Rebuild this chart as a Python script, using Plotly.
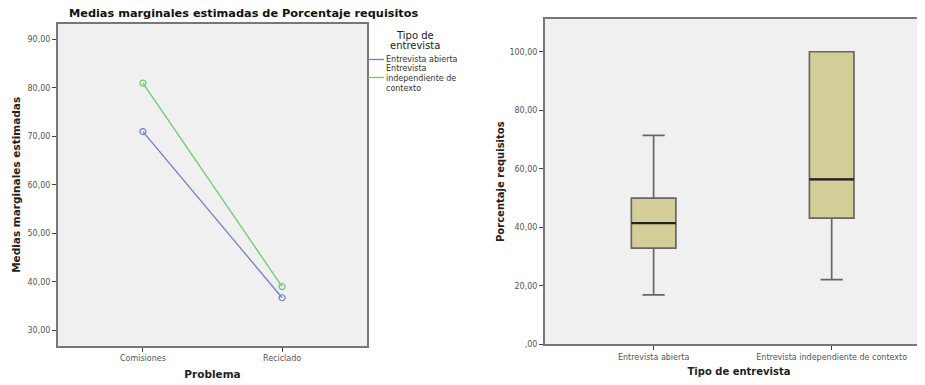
import plotly.graph_objects as go

# ---- Data ----
problemas = ["Comisiones", "Reciclado"]
tipos = ["Entrevista abierta", "Entrevista independiente de contexto"]
medias_abierta = [71.0, 36.7]
medias_independiente = [81.0, 39.0]

box_q1 = [32.9, 43.1]
box_median = [41.4, 56.4]
box_q3 = [50.0, 100.0]
box_low = [16.9, 22.1]
box_high = [71.4, 100.0]

yticks_left = [30, 40, 50, 60, 70, 80, 90]
yticks_left_text = ["30,00", "40,00", "50,00", "60,00", "70,00", "80,00", "90,00"]
yticks_right = [0, 20, 40, 60, 80, 100]
yticks_right_text = [",00", "20,00", "40,00", "60,00", "80,00", "100,00"]

W, H = 925, 385
OFF = 8  # page body margin in the browser


def px(x):
    return (x - OFF) / W


def py(y):
    return 1 - (y - OFF) / H


BLUE = "#6F80C6"
GREEN = "#6CCB6C"
FONT = "DejaVu Sans"

fig = go.Figure()

fig.add_trace(go.Scatter(
    x=problemas, y=medias_abierta, name=tipos[0], mode="lines+markers",
    line=dict(color=BLUE, width=1.3),
    marker=dict(symbol="circle-open", size=6, color=BLUE, line=dict(width=1.2)),
    xaxis="x", yaxis="y", showlegend=False))
fig.add_trace(go.Scatter(
    x=problemas, y=medias_independiente, name=tipos[1], mode="lines+markers",
    line=dict(color=GREEN, width=1.3),
    marker=dict(symbol="circle-open", size=6, color=GREEN, line=dict(width=1.2)),
    xaxis="x", yaxis="y", showlegend=False))

fig.add_trace(go.Box(
    x=tipos, q1=box_q1, median=box_median, q3=box_q3,
    lowerfence=box_low, upperfence=box_high,
    fillcolor="#D4CF98", line=dict(color="#666666", width=1.7),
    width=0.25, whiskerwidth=0.5, boxpoints=False,
    xaxis="x2", yaxis="y2", showlegend=False, hoverinfo="skip"))
# darker, thicker median line (SPSS style)
fig.add_trace(go.Box(
    x=tipos, q1=box_median, median=box_median, q3=box_median,
    lowerfence=box_median, upperfence=box_median,
    fillcolor="rgba(0,0,0,0)", line=dict(color="#222222", width=2.2),
    width=0.25, whiskerwidth=0, boxpoints=False,
    xaxis="x2", yaxis="y2", showlegend=False, hoverinfo="skip"))

axis_common = dict(showgrid=False, zeroline=False, showline=True, mirror=True,
                   linecolor="#777777", linewidth=2, ticks="outside",
                   ticklen=4, tickwidth=1.3, tickcolor="#444444", automargin=False,
                   tickfont=dict(family=FONT, size=8, color="#555555"))

fig.update_layout(
    width=W, height=H,
    margin=dict(l=0, r=0, t=0, b=0, autoexpand=False),
    paper_bgcolor="white", plot_bgcolor="#F0F0F0",
    font=dict(family=FONT),
    boxmode="overlay",
    xaxis=dict(domain=[px(58), px(367)], type="category",
               range=[-0.61, 1.61], **axis_common,
               title=dict(text="<b>Problema</b>", font=dict(size=10.5, color="#222"),
                          standoff=8)),
    yaxis=dict(domain=[py(345.7), py(24)],
               range=[26.8, 93.2], tickvals=yticks_left, ticktext=yticks_left_text,
               **axis_common,
               title=dict(text="<b>Medias marginales estimadas</b>",
                          font=dict(size=10.5, color="#222"), standoff=5)),
    xaxis2=dict(domain=[px(545), 1.0], type="category",
                range=[-0.61, 1.569], anchor="y2", **axis_common,
                title=dict(text="<b>Tipo de entrevista</b>", font=dict(size=10, color="#222"),
                           standoff=7)),
    yaxis2=dict(domain=[py(344.3), py(19)], anchor="x2",
                range=[0, 111.2], tickvals=yticks_right, ticktext=yticks_right_text,
                **axis_common,
                title=dict(text="<b>Porcentaje requisitos</b>",
                           font=dict(size=10, color="#222"), standoff=3)),
)

# Title of left chart
fig.add_annotation(text="<b>Medias marginales estimadas de Porcentaje requisitos</b>",
                   x=px(244), y=py(13), xref="paper", yref="paper",
                   showarrow=False, font=dict(size=11.3, color="#111"),
                   xanchor="center", yanchor="middle")

# Custom legend (SPSS style)
fig.add_annotation(text="Tipo de", x=px(415), y=py(35),
                   xref="paper", yref="paper", showarrow=False,
                   font=dict(size=10, color="#222"), xanchor="center", yanchor="middle")
fig.add_annotation(text="entrevista", x=px(415), y=py(45),
                   xref="paper", yref="paper", showarrow=False,
                   font=dict(size=10, color="#222"), xanchor="center", yanchor="middle")
for col, yy in [(BLUE, 59.5), (GREEN, 77.5)]:
    fig.add_shape(type="line", xref="paper", yref="paper",
                  x0=px(368), x1=px(384), y0=py(yy), y1=py(yy),
                  line=dict(color=col, width=1.3))
legend_lines = [(tipos[0], 59.5), ("Entrevista", 69), ("independiente de", 78.5), ("contexto", 88)]
for txt, yy in legend_lines:
    fig.add_annotation(text=txt, x=px(384), y=py(yy), xref="paper", yref="paper",
                       showarrow=False, font=dict(size=8, color="#333"),
                       xanchor="left", yanchor="middle")

fig.write_html("out.html")
